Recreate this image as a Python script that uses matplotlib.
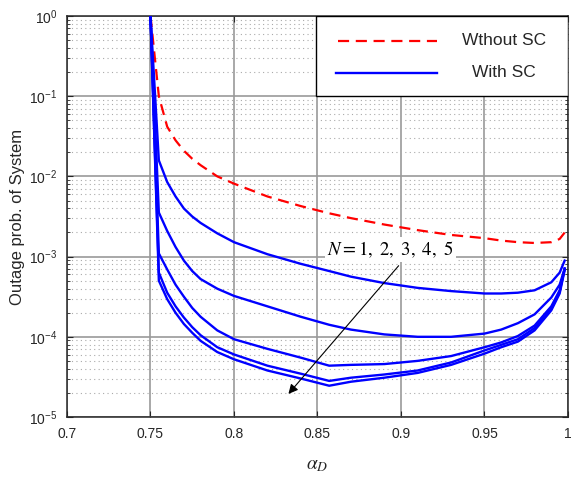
import numpy as np
import matplotlib
matplotlib.use('Agg')
import matplotlib.pyplot as plt
from matplotlib.patches import Rectangle
from matplotlib.lines import Line2D
from matplotlib.ticker import LogLocator, NullFormatter

plt.rcParams['font.family'] = ['Liberation Sans', 'DejaVu Sans']
plt.rcParams['mathtext.fontset'] = 'stix'
plt.rcParams['axes.unicode_minus'] = False

# alpha_D sample points
alpha = [0.75, 0.755, 0.76, 0.765, 0.77, 0.775, 0.78, 0.79, 0.80, 0.82, 0.84, 0.857,
         0.87, 0.89, 0.91, 0.93, 0.95, 0.96, 0.97, 0.98, 0.99, 0.995, 0.998]

# log10 outage probability
log_nosc = [0.0, -1.00, -1.38, -1.55, -1.68, -1.78, -1.86, -2.00, -2.09, -2.25, -2.37, -2.46,
            -2.52, -2.60, -2.67, -2.73, -2.77, -2.80, -2.82, -2.83, -2.82, -2.78, -2.70]
log_n1 = [0.0, -1.80, -2.07, -2.25, -2.40, -2.50, -2.58, -2.71, -2.82, -2.97, -3.09, -3.18,
          -3.25, -3.33, -3.39, -3.43, -3.46, -3.46, -3.45, -3.42, -3.32, -3.20, -3.05]
log_n2 = [0.0, -2.45, -2.68, -2.88, -3.05, -3.18, -3.28, -3.40, -3.49, -3.62, -3.75, -3.85,
          -3.91, -3.97, -4.00, -4.00, -3.96, -3.91, -3.83, -3.72, -3.51, -3.35, -3.15]
log_n3 = [0.0, -2.96, -3.16, -3.35, -3.50, -3.64, -3.75, -3.92, -4.03, -4.15, -4.26, -4.36,
          -4.35, -4.34, -4.30, -4.24, -4.13, -4.07, -3.99, -3.86, -3.62, -3.42, -3.15]
log_n4 = [0.0, -3.20, -3.45, -3.62, -3.76, -3.88, -3.98, -4.13, -4.22, -4.36, -4.46, -4.55,
          -4.51, -4.47, -4.42, -4.32, -4.17, -4.10, -4.03, -3.89, -3.65, -3.44, -3.15]
log_n5 = [0.0, -3.30, -3.53, -3.70, -3.84, -3.95, -4.05, -4.19, -4.28, -4.42, -4.52, -4.61,
          -4.56, -4.51, -4.45, -4.35, -4.21, -4.13, -4.06, -3.92, -3.67, -3.46, -3.17]

alpha = np.array(alpha)

fig = plt.figure(figsize=(5.79, 4.78), dpi=100)
ax = fig.add_axes([0.1157, 0.1276, 0.8653, 0.8389])

ax.plot(alpha, 10**np.array(log_nosc), color='red', lw=1.6, dashes=(5, 3),
        solid_joinstyle='round', zorder=3)
for lg in [log_n1, log_n2, log_n3, log_n4, log_n5]:
    ax.plot(alpha, 10**np.array(lg), color='blue', lw=1.7, solid_joinstyle='round', zorder=3)

ax.set_yscale('log')
ax.set_xlim(0.7, 1.0)
ax.set_ylim(1e-5, 1)
ax.set_xticks([0.7, 0.75, 0.8, 0.85, 0.9, 0.95, 1.0])
ax.set_xticklabels(['0.7', '0.75', '0.8', '0.85', '0.9', '0.95', '1'])
ax.yaxis.set_minor_locator(LogLocator(base=10, subs=np.arange(2, 10)))
ax.yaxis.set_minor_formatter(NullFormatter())

ax.grid(True, which='major', color='#9a9a9a', lw=1.2, ls='-', zorder=0)
ax.grid(True, which='minor', axis='y', color='#aaaaaa', lw=0.8, ls=(0, (1, 3)), zorder=0)
ax.set_axisbelow(True)

ax.tick_params(which='both', direction='in', top=True, right=True, labelsize=10,
               colors='#262626', labelcolor='#262626')
ax.tick_params(which='major', length=4, pad=7)
ax.tick_params(which='minor', length=2)
for s in ax.spines.values():
    s.set_linewidth(1.1)
    s.set_color('#262626')

ax.set_ylabel('Outage prob. of System', fontsize=12, color='#262626')
ax.yaxis.set_label_coords(-0.084, 0.5)
ax.set_xlabel(r'$\alpha_{D}$', fontsize=14, color='#262626')
ax.xaxis.set_label_coords(0.5, -0.1)

# legend drawn by hand so the labels can be centred
ax.add_patch(Rectangle((0.497, 0.80), 0.503, 0.20, transform=ax.transAxes,
                       facecolor='white', edgecolor='black', lw=1.0, zorder=5))
ax.add_line(Line2D([0.541, 0.739], [0.938, 0.938], transform=ax.transAxes,
                   color='red', lw=1.6, dashes=(5, 3), zorder=6))
ax.add_line(Line2D([0.537, 0.739], [0.858, 0.858], transform=ax.transAxes,
                   color='blue', lw=1.7, zorder=6))
ax.text(0.872, 0.938, 'Wthout SC', transform=ax.transAxes, ha='center', va='center',
        fontsize=12.5, color='#262626', zorder=7)
ax.text(0.872, 0.858, 'With SC', transform=ax.transAxes, ha='center', va='center',
        fontsize=12.5, color='#262626', zorder=7)

ax.annotate('', xy=(0.8326, 1.94e-5), xytext=(0.8986, 7.7e-4),
            arrowprops=dict(arrowstyle='-|>', color='black', lw=0.8,
                            mutation_scale=14, shrinkA=0, shrinkB=0), zorder=4)
ax.text(0.8938, 1.23e-3, r'$N=1,\ 2,\ 3,\ 4,\ 5$', ha='center', va='center',
        fontsize=13.5, zorder=6,
        bbox=dict(facecolor='white', edgecolor='none', pad=1.5))

fig.savefig('out.png', dpi=100)
